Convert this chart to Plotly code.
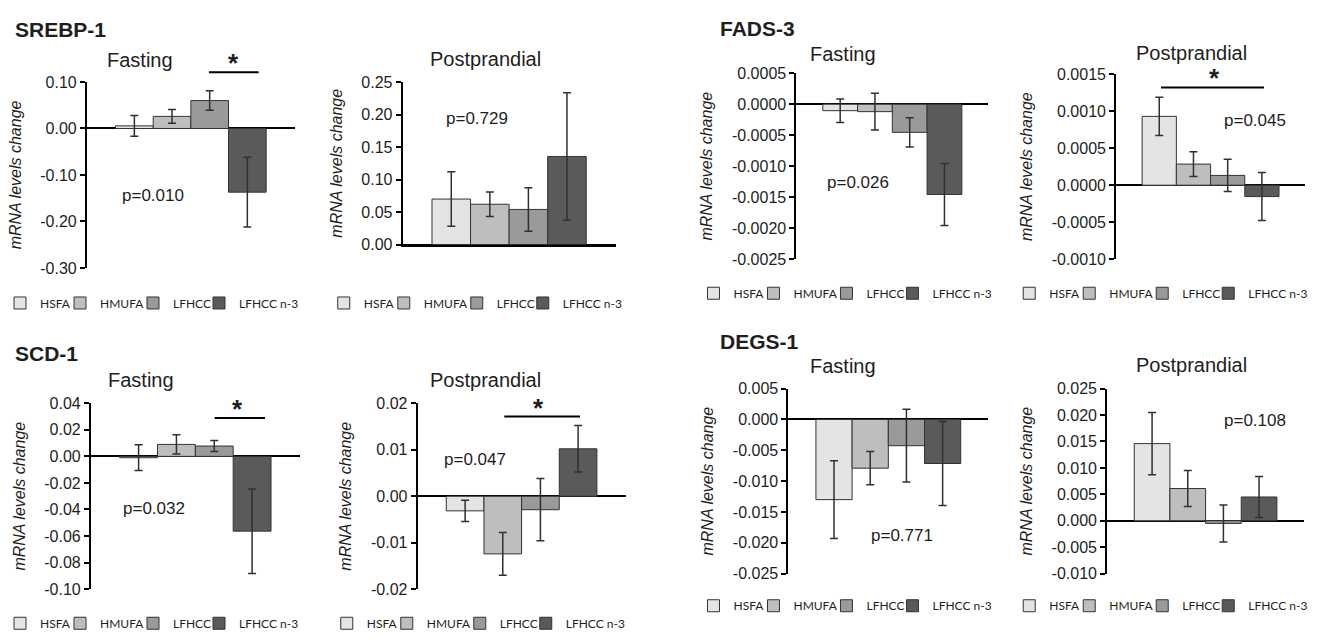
import plotly.graph_objects as go

FIG_W, FIG_H = 1317, 642

# ---------------- data ----------------
groups = ["HSFA", "HMUFA", "LFHCC", "LFHCC n-3"]

srebp_fasting = [0.0056, 0.026, 0.060, -0.137]
srebp_fasting_err = [0.0225, 0.015, 0.021, 0.075]
srebp_post = [0.070, 0.062, 0.054, 0.1355]
srebp_post_err = [0.042, 0.019, 0.0335, 0.098]

fads_fasting = [-0.000104, -0.00012, -0.000454, -0.001456]
fads_fasting_err = [0.00019, 0.000295, 0.000235, 0.0005]
fads_post = [0.00093, 0.000285, 0.000132, -0.000154]
fads_post_err = [0.000257, 0.000168, 0.000217, 0.000325]

scd_fasting = [-0.001, 0.009, 0.0078, -0.0563]
scd_fasting_err = [0.0097, 0.0073, 0.0042, 0.0318]
scd_post = [-0.00315, -0.0124, -0.0029, 0.0102]
scd_post_err = [0.0023, 0.0046, 0.0067, 0.005]

degs_fasting = [-0.0130, -0.0079, -0.00425, -0.00714]
degs_fasting_err = [0.0063, 0.0027, 0.0059, 0.0068]
degs_post = [0.0146, 0.0061, -0.0005, 0.0045]
degs_post_err = [0.0059, 0.0034, 0.0035, 0.0039]

srebp_fasting_ticks = [-0.30, -0.20, -0.10, 0.00, 0.10]
srebp_post_ticks = [0.00, 0.05, 0.10, 0.15, 0.20, 0.25]
fads_fasting_ticks = [-0.0025, -0.0020, -0.0015, -0.0010, -0.0005, 0.0000, 0.0005]
fads_post_ticks = [-0.0010, -0.0005, 0.0000, 0.0005, 0.0010, 0.0015]
scd_fasting_ticks = [-0.10, -0.08, -0.06, -0.04, -0.02, 0.00, 0.02, 0.04]
scd_post_ticks = [-0.02, -0.01, 0.00, 0.01, 0.02]
degs_fasting_ticks = [-0.025, -0.020, -0.015, -0.010, -0.005, 0.000, 0.005]
degs_post_ticks = [-0.010, -0.005, 0.000, 0.005, 0.010, 0.015, 0.020, 0.025]

p_labels = ["p=0.010", "p=0.729", "p=0.026", "p=0.045",
            "p=0.032", "p=0.047", "p=0.771", "p=0.108"]

# ---------------- styles ----------------
bar_colors = ["#e4e4e4", "#bebebe", "#9a9a9a", "#5a5a5a"]
legend_item_widths = [15, 28, 21, 60]
XR = [-1.26, 4.26]
TXT = "#1e1e1e"
SANS = "Liberation Sans, Arial, sans-serif"

panels = [
    dict(gene="SREBP-1", phase="Fasting", vals=srebp_fasting, errs=srebp_fasting_err,
         ticks=srebp_fasting_ticks, dec=2, box=(86, 294, 76, 267),
         phase_px=(139, 53), gene_px=(12, 22), legend_px=(13, 303),
         p_xy=(0.49, -0.145), star=(2.64, 0.141), sig=(1.98, 3.30, 0.121)),
    dict(gene=None, phase="Postprandial", vals=srebp_post, errs=srebp_post_err,
         ticks=srebp_post_ticks, dec=2, box=(402, 615, 76, 243),
         phase_px=(485, 52), gene_px=None, legend_px=(337, 303),
         p_xy=(0.66, 0.194), star=None, sig=None),
    dict(gene="FADS-3", phase="Fasting", vals=fads_fasting, errs=fads_fasting_err,
         ticks=fads_fasting_ticks, dec=4, box=(796, 988, 67, 258),
         phase_px=(843, 47), gene_px=(718, 21), legend_px=(707, 293),
         p_xy=(0.52, -0.00127), star=None, sig=None),
    dict(gene=None, phase="Postprandial", vals=fads_post, errs=fads_post_err,
         ticks=fads_post_ticks, dec=4, box=(1116, 1305, 68, 258),
         phase_px=(1191, 46), gene_px=None, legend_px=(1023, 293),
         p_xy=(2.80, 0.00088), star=(1.60, 0.00145), sig=(0.05, 3.06, 0.00132)),
    dict(gene="SCD-1", phase="Fasting", vals=scd_fasting, errs=scd_fasting_err,
         ticks=scd_fasting_ticks, dec=2, box=(90, 299, 406, 597),
         phase_px=(140, 382), gene_px=(12, 355), legend_px=(13, 632),
         p_xy=(0.40, -0.039), star=(2.62, 0.0355), sig=(2.01, 3.34, 0.0289)),
    dict(gene=None, phase="Postprandial", vals=scd_post, errs=scd_post_err,
         ticks=scd_post_ticks, dec=2, box=(417, 625, 406, 597),
         phase_px=(485, 382), gene_px=None, legend_px=(340, 632),
         p_xy=(0.26, 0.0079), star=(1.96, 0.0189), sig=(1.04, 3.05, 0.01714)),
    dict(gene="DEGS-1", phase="Fasting", vals=degs_fasting, errs=degs_fasting_err,
         ticks=degs_fasting_ticks, dec=3, box=(788, 988, 391, 581),
         phase_px=(843, 368), gene_px=(718, 343), legend_px=(707, 614),
         p_xy=(1.87, -0.0188), star=None, sig=None),
    dict(gene=None, phase="Postprandial", vals=degs_post, errs=degs_post_err,
         ticks=degs_post_ticks, dec=3, box=(1107, 1304, 391, 581),
         phase_px=(1191, 367), gene_px=None, legend_px=(1023, 614),
         p_xy=(2.88, 0.019), star=None, sig=None),
]

fig = go.Figure()
layout = {}
annotations = []
shapes = []


def fx(v):
    return (v - XR[0]) / (XR[1] - XR[0])


for k, pn in enumerate(panels):
    n = "" if k == 0 else str(k + 1)
    xa, ya, leg = "x" + n, "y" + n, "legend" + n
    for i, g in enumerate(groups):
        fig.add_trace(go.Bar(
            x=[g], y=[pn["vals"][i]], name=g,
            error_y=dict(type="data", array=[pn["errs"][i]], color="#303030",
                         thickness=1.5, width=4),
            marker=dict(color=bar_colors[i], line=dict(color="#333333", width=1)),
            xaxis=xa, yaxis=ya, legend=leg, legendwidth=legend_item_widths[i],
            hoverinfo="skip",
        ))
    x0, x1, y0, y1 = pn["box"]
    ticks = pn["ticks"]
    lo, hi = ticks[0], ticks[-1]
    eps = (hi - lo) * 1e-6
    fy = lambda v: (v - lo) / (hi - lo)
    layout["xaxis" + n] = dict(
        domain=[x0 / FIG_W, x1 / FIG_W], anchor=ya, type="category",
        categoryorder="array", categoryarray=groups, range=XR,
        showticklabels=False, showgrid=False, zeroline=False, ticks="",
        showline=(lo == 0), linecolor="black", linewidth=2, fixedrange=True,
    )
    layout["yaxis" + n] = dict(
        domain=[1 - y1 / FIG_H, 1 - y0 / FIG_H], anchor=xa,
        range=[lo - eps, hi + eps],
        tickmode="array", tickvals=ticks,
        ticktext=[f"{v:.{pn['dec']}f}" for v in ticks],
        tickfont=dict(family=SANS, size=16, color=TXT),
        showline=True, linecolor="black", linewidth=2,
        ticks="outside", ticklen=5, tickwidth=2, tickcolor="black",
        showgrid=False, zeroline=True, zerolinecolor="black", zerolinewidth=2,
        title=dict(text="mRNA levels change",
                   font=dict(family=SANS, size=16, color=TXT, style="italic")),
        fixedrange=True,
    )
    lx, ly = pn["legend_px"]
    layout[leg] = dict(
        orientation="h", x=(lx - 14) / FIG_W, xanchor="left",
        y=1 - ly / FIG_H, yanchor="middle",
        font=dict(family="Lato, sans-serif", size=12, color=TXT),
        bgcolor="rgba(0,0,0,0)", borderwidth=0, itemwidth=30,
    )
    px, py = pn["phase_px"]
    annotations.append(dict(text=pn["phase"], xref="paper", yref="paper",
                            x=px / FIG_W, y=1 - py / FIG_H, xanchor="center",
                            yanchor="middle", showarrow=False,
                            font=dict(family=SANS, size=20, color=TXT)))
    if pn["gene"]:
        gx, gy = pn["gene_px"]
        annotations.append(dict(text="<b>" + pn["gene"] + "</b>", xref="paper",
                                yref="paper", x=gx / FIG_W, y=1 - gy / FIG_H,
                                xanchor="left", yanchor="middle", showarrow=False,
                                font=dict(family=SANS, size=21, color=TXT)))
    annotations.append(dict(text=p_labels[k], xref=xa, yref=ya,
                            x=pn["p_xy"][0], y=pn["p_xy"][1], xanchor="center",
                            yanchor="middle", showarrow=False,
                            font=dict(family=SANS, size=17, color=TXT)))
    if pn["star"]:
        annotations.append(dict(text="<b>*</b>", xref=xa, yref=ya + " domain",
                                x=pn["star"][0], y=fy(pn["star"][1]),
                                xanchor="center", yanchor="middle", showarrow=False,
                                font=dict(family=SANS, size=26, color=TXT)))
    if pn["sig"]:
        sx0, sx1, sy = pn["sig"]
        shapes.append(dict(type="line", xref=xa + " domain", yref=ya + " domain",
                           x0=fx(sx0), x1=fx(sx1), y0=fy(sy), y1=fy(sy),
                           line=dict(color="black", width=2)))

fig.update_layout(
    width=FIG_W, height=FIG_H, margin=dict(l=0, r=0, t=0, b=0),
    paper_bgcolor="white", plot_bgcolor="white",
    barmode="relative", bargap=0, bargroupgap=0,
    font=dict(family=SANS, color=TXT),
    annotations=annotations, shapes=shapes,
    **layout,
)

fig.write_html("out.html",
               config={"displayModeBar": False, "staticPlot": True},
               post_script="document.body.style.margin='0px';"
                           "document.body.style.overflow='hidden';")
